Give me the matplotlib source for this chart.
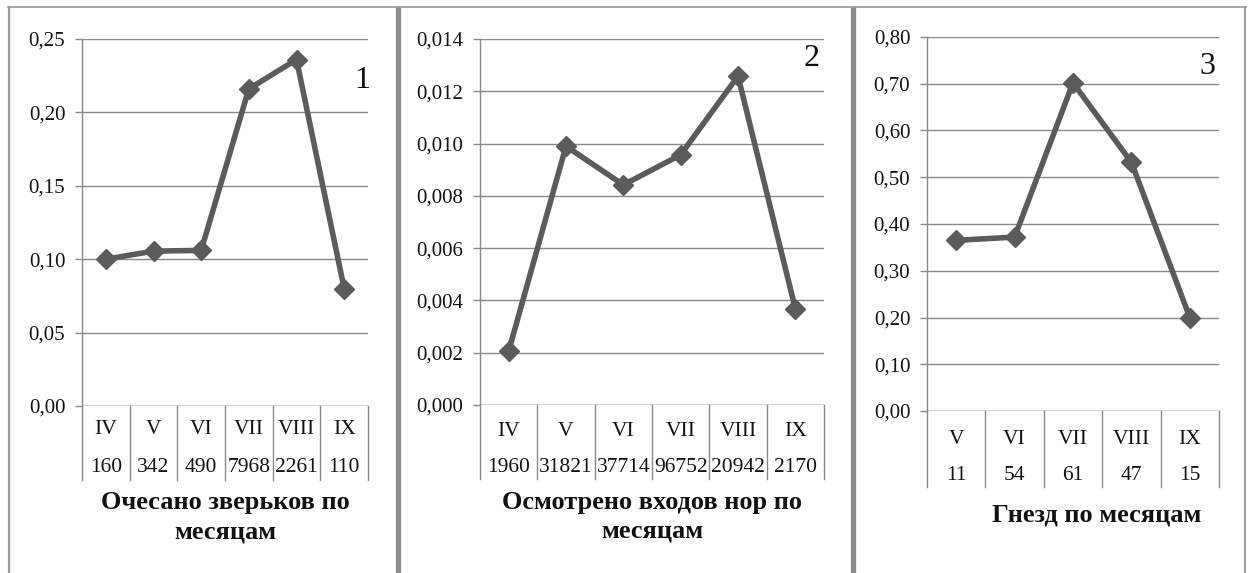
import numpy as np
import matplotlib
matplotlib.use("Agg")
import matplotlib.pyplot as plt
from matplotlib.transforms import blended_transform_factory

plt.rcParams['font.family'] = ['Liberation Serif', 'DejaVu Serif']

W, H = 1251, 573
DPI = 100

# --- data -------------------------------------------------------------
months_1 = ["IV", "V", "VI", "VII", "VIII", "IX"]
counts_1 = ["160", "342", "490", "7968", "2261", "110"]
values_1 = [0.100, 0.1055, 0.106, 0.216, 0.236, 0.080]
title_1 = ["Очесано зверьков по", "месяцам"]

months_2 = ["IV", "V", "VI", "VII", "VIII", "IX"]
counts_2 = ["1960", "31821", "37714", "96752", "20942", "2170"]
values_2 = [0.00206, 0.0099, 0.00842, 0.00957, 0.01258, 0.00368]
title_2 = ["Осмотрено входов нор по", "месяцам"]

months_3 = ["V", "VI", "VII", "VIII", "IX"]
counts_3 = ["11", "54", "61", "47", "15"]
values_3 = [0.365, 0.372, 0.702, 0.532, 0.200]
title_3 = ["Гнезд по месяцам"]

LINE = "#5b5b5b"
GRID = "#8a8a8a"
FRAME = "#9a9a9a"

fig = plt.figure(figsize=(W / DPI, H / DPI), dpi=DPI)
fig.patch.set_facecolor("white")

# background layer in pixel coordinates for the panel frames and captions
frame = fig.add_axes([0, 0, 1, 1], zorder=-5)
frame.set_xlim(0, W)
frame.set_ylim(H, 0)
frame.axis("off")
frame.plot([8, 1246], [7, 7], color=FRAME, lw=1.2)
frame.plot([9, 9], [7, H], color=FRAME, lw=1.6)
frame.plot([1245, 1245], [7, H], color=FRAME, lw=1.4)
for xb in (397.5, 852.5):
    frame.plot([xb, xb], [7, H], color="#8c8c8c", lw=3.8, solid_capstyle="butt")


def panel(left, right, top, bottom, ymax, step, fmt, months, counts, values,
          row1_y, row2_y, tab_bottom, title_lines, title_ys, title_x,
          num, num_xy):
    ax = fig.add_axes([left / W, 1 - bottom / H, (right - left) / W,
                       (bottom - top) / H])
    ax.patch.set_visible(False)
    n = len(values)
    ax.set_xlim(0, n)
    ax.set_ylim(0, ymax)
    ticks = np.arange(0, ymax + step / 2, step)
    ax.set_yticks(ticks)
    ax.set_yticklabels([fmt.format(t).replace(".", ",") for t in ticks])
    ax.set_xticks([])
    ax.yaxis.grid(True, color=GRID, lw=1.0)
    ax.set_axisbelow(True)
    for s in ("top", "right", "bottom"):
        ax.spines[s].set_visible(False)
    ax.spines["left"].set_color(GRID)
    ax.spines["left"].set_linewidth(1.0)
    ax.tick_params(axis="y", length=5, width=1.0, color=GRID, pad=7,
                   labelsize=15, labelcolor="#111111")
    ax.axhline(0, color=GRID, lw=1.0)

    xs = np.arange(n) + 0.5
    ax.plot(xs, values, color=LINE, lw=4.0, marker="D", ms=10.5,
            mfc=LINE, mec=LINE, zorder=3, clip_on=False)

    # category table under the plot
    span = bottom - top
    tr = blended_transform_factory(ax.transData, ax.transAxes)
    yb = -(tab_bottom - bottom) / span
    for k in range(n + 1):
        ax.plot([k, k], [0, yb], color=GRID, lw=1.0, transform=tr,
                clip_on=False)
    r1 = -(row1_y - bottom) / span
    r2 = -(row2_y - bottom) / span
    for i in range(n):
        ax.text(i + 0.5, r1, months[i], transform=tr, ha="center",
                va="center", fontsize=15.5, color="#111111")
        ax.text(i + 0.5, r2, counts[i], transform=tr, ha="center",
                va="center", fontsize=15.5, color="#111111")

    for line, ty in zip(title_lines, title_ys):
        frame.text(title_x, ty, line, ha="center", va="center",
                   fontsize=19, fontweight="bold", color="#111111")
    frame.text(num_xy[0], num_xy[1], num, ha="center", va="center",
               fontsize=23, color="#111111")
    return ax


panel(82, 368, 39, 406, 0.25, 0.05, "{:.2f}", months_1, counts_1, values_1,
      430, 468, 480, title_1, (502, 532), 225, "1", (362, 80))
panel(480, 824, 39, 405, 0.014, 0.002, "{:.3f}", months_2, counts_2, values_2,
      431, 468, 479, title_2, (503, 531), 652, "2", (812, 58))
panel(927, 1219, 37, 411, 0.80, 0.10, "{:.2f}", months_3, counts_3, values_3,
      439, 475, 487, title_3, (515,), 1097, "3", (1207, 67))

fig.savefig("out.png", dpi=DPI, facecolor="white")
